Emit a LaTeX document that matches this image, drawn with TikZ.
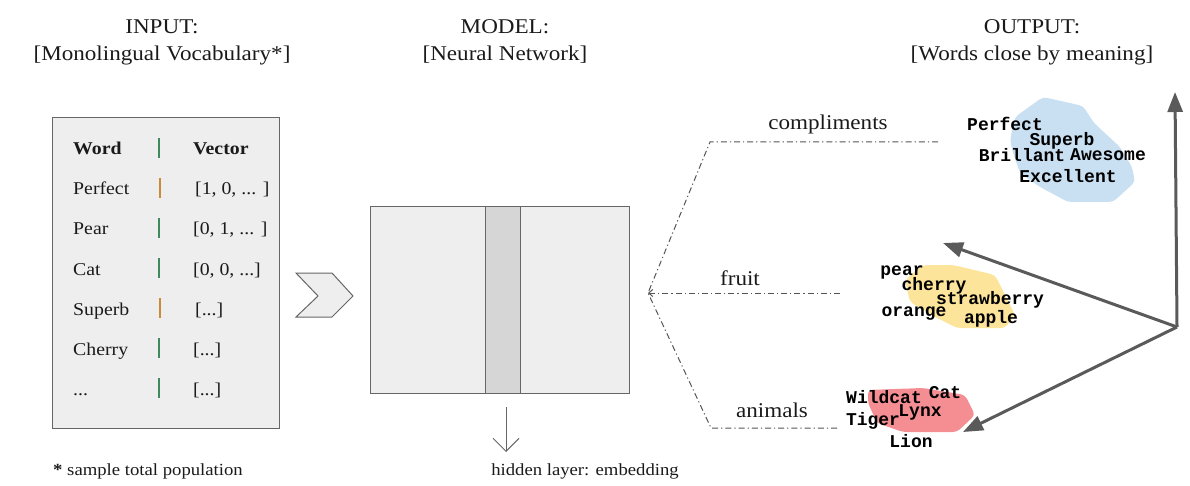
\documentclass[tikz,border=0pt]{standalone}
\usepackage{fontspec}
\setmainfont{Liberation Serif}[FakeStretch=1.1]
\newfontfamily\wordfont{Liberation Mono}
\usetikzlibrary{arrows.meta}
\definecolor{boxfill}{HTML}{EEEEEE}
\definecolor{bandfill}{HTML}{D6D6D6}
\definecolor{edge}{HTML}{666666}
\definecolor{ddcol}{HTML}{555555}
\definecolor{axiscol}{HTML}{5A5A5A}
\definecolor{blobblue}{HTML}{C9DFF2}
\definecolor{blobyellow}{HTML}{FDE49B}
\definecolor{blobred}{HTML}{F58E92}
\definecolor{sepgreen}{HTML}{3E8A5E}
\definecolor{seporange}{HTML}{C98A3A}
\definecolor{ink}{HTML}{1A1A1A}
\begin{document}
\begin{tikzpicture}[x=1pt,y=-1pt,
  header/.style={font=\fontsize{21}{26}\selectfont, text=ink, inner sep=0pt, text height=14pt, text depth=5pt, yshift=-4pt},
  cell/.style={font=\fontsize{18}{22}\selectfont, anchor=west, text=ink, inner sep=0pt, text height=12pt, text depth=4pt, yshift=-3pt},
  headcell/.style={cell, font=\fontsize{18}{22}\selectfont\bfseries},
  sep/.style={line width=1.2pt},
  panel/.style={draw=edge, fill=boxfill, line width=1pt, inner sep=0pt},
  cat/.style={font=\fontsize{21}{26}\selectfont, text=ink, inner sep=0pt, text height=14pt, text depth=5pt, yshift=-3pt},
  note/.style={font=\fontsize{17}{20}\selectfont, text=ink, inner sep=0pt, text height=12pt, text depth=4pt, yshift=-3pt},
  word/.style={font=\wordfont\bfseries\fontsize{18}{20}\selectfont, text=black, inner sep=0pt, text height=11pt, text depth=4pt, yshift=-3pt},
  dd/.style={draw=ddcol, line width=1pt, dash pattern=on 6pt off 3pt on 1.2pt off 3pt},
  axisarrow/.style={draw=axiscol, line width=3pt, -{Triangle[length=20pt,width=15pt]}},
  blob/.style={rounded corners=4pt}
]
\useasboundingbox (0,0) rectangle (1190,486);

% headers
\node[header] (h1a) at (162,25) {INPUT:};
\node[header] (h1b) at (162,52) {[Monolingual Vocabulary*]};
\node[header] (h2a) at (505,25) {MODEL:};
\node[header] (h2b) at (505,52) {[Neural Network]};
\node[header] (h3a) at (1032,25) {OUTPUT:};
\node[header] (h3b) at (1032,52) {[Words close by meaning]};

% vocabulary table
\node[panel, minimum width=227pt, minimum height=310pt] (table) at (165.5,273) {};
\node[headcell] (w0) at (73,148) {Word};
\node[headcell] (v0) at (193,148) {Vector};
\node[cell] (w1) at (73,188) {Perfect};
\node[cell] (v1) at (195,188) {[1, 0, ... ]};
\node[cell] (w2) at (73,228) {Pear};
\node[cell] (v2) at (193,228) {[0, 1, ... ]};
\node[cell] (w3) at (73,268) {Cat};
\node[cell] (v3) at (193,268) {[0, 0, ...]};
\node[cell] (w4) at (73,308) {Superb};
\node[cell] (v4) at (195,308) {[...]};
\node[cell] (w5) at (73,348) {Cherry};
\node[cell] (v5) at (193,348) {[...]};
\node[cell] (w6) at (73,388) {...};
\node[cell] (v6) at (193,388) {[...]};
\draw[sep, sepgreen] (159,138) -- (159,158);
\draw[sep, seporange] (160,178) -- (160,198);
\draw[sep, sepgreen] (159,218) -- (159,238);
\draw[sep, sepgreen] (159,258) -- (159,278);
\draw[sep, seporange] (160,298) -- (160,318);
\draw[sep, sepgreen] (159,338) -- (159,358);
\draw[sep, sepgreen] (159,378) -- (159,398);

\node[note] (footnote) at (148,468) {{\bfseries *} sample total population};

% chevron
\draw[draw=edge, fill=boxfill, line width=1pt]
  (296,273) -- (332,273) -- (353,296) -- (332,317) -- (296,317) -- (318,296) -- cycle;

% model
\node[panel, minimum width=259pt, minimum height=186pt] (model) at (499.5,300) {};
\node[draw=edge, fill=bandfill, line width=1pt, inner sep=0pt, minimum width=35pt, minimum height=186pt] (band) at (502.5,300) {};
\coordinate (hstart) at (506,407);
\coordinate (hend) at (506,452);
\draw[draw=edge, line width=1pt, -{Straight Barb[length=13pt,width=26pt]}] (hstart) -- (hend);
\node[note] (hidden) at (585,468) {hidden layer: embedding};

% category connectors
\coordinate (apex) at (648,293);
\coordinate (ctop) at (710,142);
\coordinate (ctopend) at (938,142);
\coordinate (fruitend) at (840,293);
\coordinate (cbot) at (711,428);
\coordinate (cbotend) at (837,428);
\draw[dd] (ctopend) -- (ctop) -- (apex);
\draw[dd, -{Straight Barb[length=4pt,width=7pt]}] (fruitend) -- (apex);
\draw[dd] (cbotend) -- (cbot) -- (apex);
\node[cat] (lcomp) at (828,122) {compliments};
\node[cat] (lfruit) at (740,278) {fruit};
\node[cat] (lanim) at (772,410) {animals};

% blobs
\fill[blobblue, blob] (1043,97) -- (1083,106) -- (1094,123) -- (1120,147) -- (1132,167) -- (1135,182)
  -- (1113,202) -- (1068,202) -- (1040,187) -- (1020,173) -- (1013,153) -- (1010,140) -- (1015,117) -- cycle;
\fill[blobyellow, blob] (923,265) -- (953,265) -- (995,275) -- (1005,295) -- (1015,315) -- (1005,328)
  -- (957,328) -- (937,318) -- (910,302) -- (905,280) -- cycle;
\fill[blobred, blob] (868,390) -- (923,388) -- (965,395) -- (975,415) -- (957,432) -- (903,432)
  -- (877,423) -- (868,403) -- cycle;

% words
\node[word] (perfect) at (1005,124) {Perfect};
\node[word] (superb) at (1062,139) {Superb};
\node[word] (brillant) at (1022,155) {Brillant};
\node[word] (awesome) at (1108,154) {Awesome};
\node[word] (excellent) at (1068,176) {Excellent};
\node[word] (pear) at (902,269) {pear};
\node[word] (cherry) at (934,284) {cherry};
\node[word] (strawberry) at (990,298) {strawberry};
\node[word] (orange) at (914,310) {orange};
\node[word] (apple) at (991,317) {apple};
\node[word] (wildcat) at (884,397) {Wildcat};
\node[word] (catw) at (945,392) {Cat};
\node[word] (lynx) at (920,410) {Lynx};
\node[word] (tiger) at (873,419) {Tiger};
\node[word] (lion) at (911,441) {Lion};

% axes
\coordinate (origin) at (1177,327);
\coordinate (ytip) at (1175,92);
\coordinate (ltip) at (943,243);
\coordinate (btip) at (963,432);
\draw[axisarrow] (origin) -- (ytip);
\draw[axisarrow] (origin) -- (ltip);
\draw[axisarrow] (origin) -- (btip);
\end{tikzpicture}
\end{document}
